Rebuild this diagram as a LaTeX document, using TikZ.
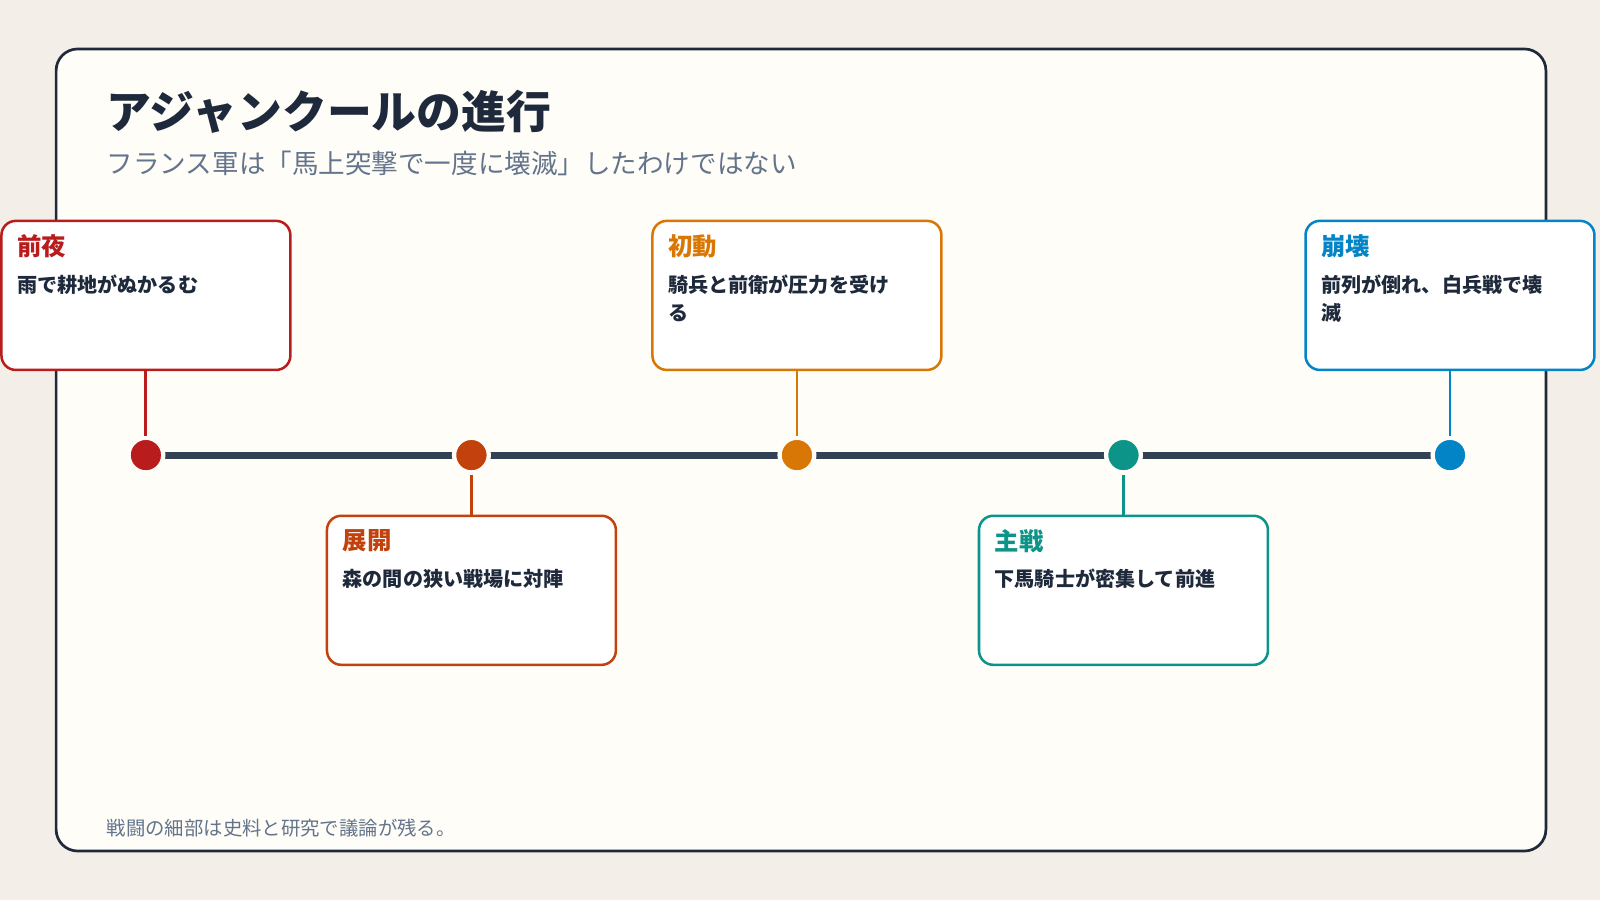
\documentclass[tikz,border=0pt]{standalone}
\usepackage{fontspec}
\setmainfont{Noto Sans CJK JP}
\usetikzlibrary{positioning}
\definecolor{pagebg}{HTML}{F3EFE8}
\definecolor{cardbg}{HTML}{FEFDF8}
\definecolor{ink}{HTML}{1E293B}
\definecolor{axis}{HTML}{334155}
\definecolor{muted}{HTML}{64748B}
\definecolor{cA}{HTML}{B91C1C}
\definecolor{cB}{HTML}{C2410C}
\definecolor{cC}{HTML}{D97706}
\definecolor{cD}{HTML}{0D9488}
\definecolor{cE}{HTML}{0284C7}
\tikzset{
  event/.style={draw=#1, line width=0.7pt, fill=white, rounded corners=4pt,
    minimum width=2.83cm, minimum height=1.46cm},
  dot/.style={circle, fill=#1, draw=cardbg, line width=1.2pt, minimum size=0.34cm, inner sep=0pt},
  stem/.style={draw=#1, line width=0.8pt},
}
\newcommand{\evtext}[3]{%
  \node[anchor=north west, text=#1, font=\fontsize{6.8}{8}\selectfont\bfseries, inner sep=0pt]
    at ([xshift=0.16cm,yshift=-0.14cm]#2.north west) {#3};}
\newcommand{\evbody}[2]{%
  \node[anchor=north west, text=ink, font=\fontsize{5.6}{7.8}\selectfont\bfseries, inner sep=0pt, align=left]
    at ([xshift=0.16cm,yshift=-0.53cm]#1.north west) {#2};}
\begin{document}
\begin{tikzpicture}[x=0.01cm, y=-0.01cm]
    % Page and card
    \fill[pagebg] (0,0) rectangle (1568,882);
    \useasboundingbox (0,0) rectangle (1568,882);
    \draw[ink, line width=0.75pt, fill=cardbg, rounded corners=6pt] (55,48) rectangle (1515,834);
    % Heading
    \node[anchor=west, text=ink, font=\fontsize{12.5}{14}\selectfont\bfseries, inner sep=0pt] (title) at (104,110) {アジャンクールの進行};
    \node[anchor=west, text=muted, font=\fontsize{7.4}{9}\selectfont, inner sep=0pt] (sub) at (104,160) {フランス軍は「馬上突撃で一度に壊滅」したわけではない};
    % Axis
    \draw[axis, line width=2pt] (143,446) -- (1421,446);
    % Dots
    \node[dot=cA] (d1) at (143,446) {};
    \node[dot=cB] (d2) at (462,446) {};
    \node[dot=cC] (d3) at (781,446) {};
    \node[dot=cD] (d4) at (1101,446) {};
    \node[dot=cE] (d5) at (1421,446) {};
    % Boxes
    \node[event=cA] (b1) at (143,289.5) {};
    \node[event=cB] (b2) at (462,578.5) {};
    \node[event=cC] (b3) at (781,289.5) {};
    \node[event=cD] (b4) at (1101,578.5) {};
    \node[event=cE] (b5) at (1421,289.5) {};
    % Stems
    \draw[stem=cA] (d1) -- (b1);
    \draw[stem=cB] (d2) -- (b2);
    \draw[stem=cC] (d3) -- (b3);
    \draw[stem=cD] (d4) -- (b4);
    \draw[stem=cE] (d5) -- (b5);
    % Texts
    \evtext{cA}{b1}{前夜}   \evbody{b1}{雨で耕地がぬかるむ}
    \evtext{cB}{b2}{展開}   \evbody{b2}{森の間の狭い戦場に対陣}
    \evtext{cC}{b3}{初動}   \evbody{b3}{騎兵と前衛が圧力を受け\\る}
    \evtext{cD}{b4}{主戦}   \evbody{b4}{下馬騎士が密集して前進}
    \evtext{cE}{b5}{崩壊}   \evbody{b5}{前列が倒れ、白兵戦で壊\\滅}
    % Footer
    \node[anchor=west, text=muted, font=\fontsize{5.4}{7}\selectfont, inner sep=0pt] (note) at (104,812) {戦闘の細部は史料と研究で議論が残る。};
\end{tikzpicture}
\end{document}
